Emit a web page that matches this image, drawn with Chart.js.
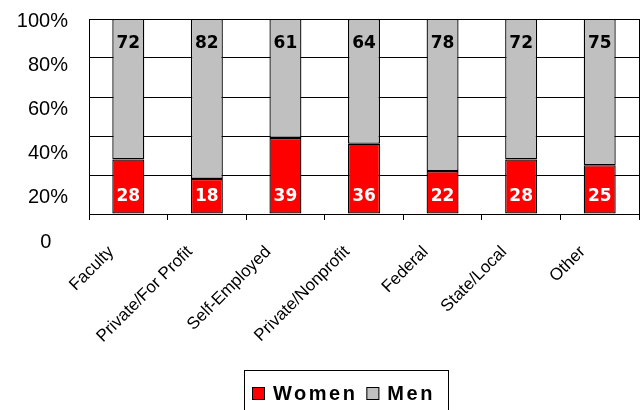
<!DOCTYPE html>
<html>
<head>
<meta charset="utf-8">
<script src="https://cdn.jsdelivr.net/npm/chart.js@4.4.0/dist/chart.umd.min.js"></script>
<style>
  html, body { margin: 0; padding: 0; background: #fff; }
  #wrap { width: 642px; height: 410px; position: relative; }
</style>
</head>
<body>
<div id="wrap"><canvas id="myChart"></canvas></div>
<script>
var categories = ['Faculty', 'Private/For Profit', 'Self-Employed', 'Private/Nonprofit', 'Federal', 'State/Local', 'Other'];
var women = [28, 18, 39, 36, 22, 28, 25];
var men = [72, 82, 61, 64, 78, 72, 75];
var yTickValues = [0, 20, 40, 60, 80, 100];
var yTickLabels = ['0', '20%', '40%', '60%', '80%', '100%'];

var FONT = '"Liberation Sans", Arial, sans-serif';

// numbers inside the bars
var barValues = {
  id: 'barValues',
  afterDatasetsDraw: function (chart) {
    var ctx = chart.ctx;
    ctx.save();
    ctx.font = 'bold 17px "DejaVu Sans", Verdana, sans-serif';
    ctx.textAlign = 'center';
    ctx.textBaseline = 'middle';
    chart.data.datasets.forEach(function (ds, i) {
      chart.getDatasetMeta(i).data.forEach(function (bar, j) {
        if (i === 0) {
          ctx.fillStyle = '#fff';
          ctx.fillText(ds.data[j], bar.x, bar.base - 17);
        } else {
          ctx.fillStyle = '#000';
          ctx.fillText(ds.data[j], bar.x, bar.y + 25);
        }
      });
    });
    ctx.restore();
  }
};

// frame round the plot area
var plotFrame = {
  id: 'plotFrame',
  afterDraw: function (chart) {
    var a = chart.chartArea, ctx = chart.ctx;
    ctx.save();
    ctx.strokeStyle = '#000';
    ctx.lineWidth = 1;
    ctx.strokeRect(a.left + 0.5, a.top + 0.5, a.right - a.left, a.bottom - a.top);
    ctx.restore();
  }
};

// boxed legend at the bottom, like the excel one
var boxLegend = {
  id: 'boxLegend',
  afterDraw: function (chart) {
    var ctx = chart.ctx;
    ctx.save();
    ctx.strokeStyle = '#000';
    ctx.lineWidth = 1;
    ctx.strokeRect(244.5, 370.5, 204, 50);
    ctx.font = 'bold 20px ' + FONT;
    ctx.letterSpacing = '2.5px';
    ctx.textBaseline = 'alphabetic';
    var x = 252;
    chart.data.datasets.forEach(function (ds) {
      ctx.fillStyle = ds.backgroundColor;
      ctx.fillRect(x, 387, 13, 13);
      ctx.strokeRect(x + 0.5, 387.5, 12, 12);
      ctx.fillStyle = '#000';
      ctx.fillText(ds.label, x + 21, 399.5);
      x += 21 + ctx.measureText(ds.label).width + 9;
    });
    ctx.restore();
  }
};

var ctx = document.getElementById('myChart').getContext('2d');
var chart = new Chart(ctx, {
  type: 'bar',
  data: {
    labels: categories,
    datasets: [
      { label: 'Women', data: women, backgroundColor: '#ff0000' },
      { label: 'Men', data: men, backgroundColor: '#c0c0c0' }
    ]
  },
  options: {
    responsive: true,
    maintainAspectRatio: false,
    animation: false,
    layout: { padding: { top: 19, right: 3, bottom: 0, left: 0 } },
    datasets: {
      bar: {
        barPercentage: 0.407,
        categoryPercentage: 1,
        borderColor: '#000',
        borderWidth: 1.3,
        borderSkipped: false
      }
    },
    plugins: {
      legend: { display: false },
      tooltip: { enabled: false }
    },
    scales: {
      x: {
        stacked: true,
        grid: { offset: true, drawOnChartArea: false, tickLength: 6, color: '#000' },
        border: { color: '#000' },
        ticks: {
          autoSkip: false,
          minRotation: 45,
          maxRotation: 45,
          labelOffset: -17,
          padding: 22,
          color: '#000',
          font: { family: FONT, size: 17 }
        },
        afterFit: function (s) {
          s.height = 196;
          s.paddingLeft = 0;
          s.paddingRight = 0;
        }
      },
      y: {
        stacked: true,
        min: 0,
        max: 100,
        grid: { color: '#000', drawTicks: false },
        border: { color: '#000' },
        ticks: { display: false, stepSize: 20 },
        afterFit: function (s) { s.width = 0; }
      },
      // tick labels sit on their own, wider spacing than the gridlines (as in the original)
      yl: {
        position: 'left',
        min: 12.71,
        max: 101.23,
        grid: { display: false, drawTicks: false },
        border: { display: false },
        ticks: {
          autoSkip: false,
          padding: 21,
          color: '#000',
          font: { family: FONT, size: 20 },
          callback: function (v) {
            var lab = yTickLabels[yTickValues.indexOf(v)];
            return v === 0 ? lab + '   ' : lab;
          }
        },
        afterBuildTicks: function (s) {
          s.ticks = yTickValues.map(function (v) { return { value: v }; });
        },
        afterFit: function (s) {
          s.width = 89;
          s.paddingTop = 0;
          s.paddingBottom = 0;
        }
      }
    }
  },
  plugins: [barValues, plotFrame, boxLegend]
});
</script>
</body>
</html>
